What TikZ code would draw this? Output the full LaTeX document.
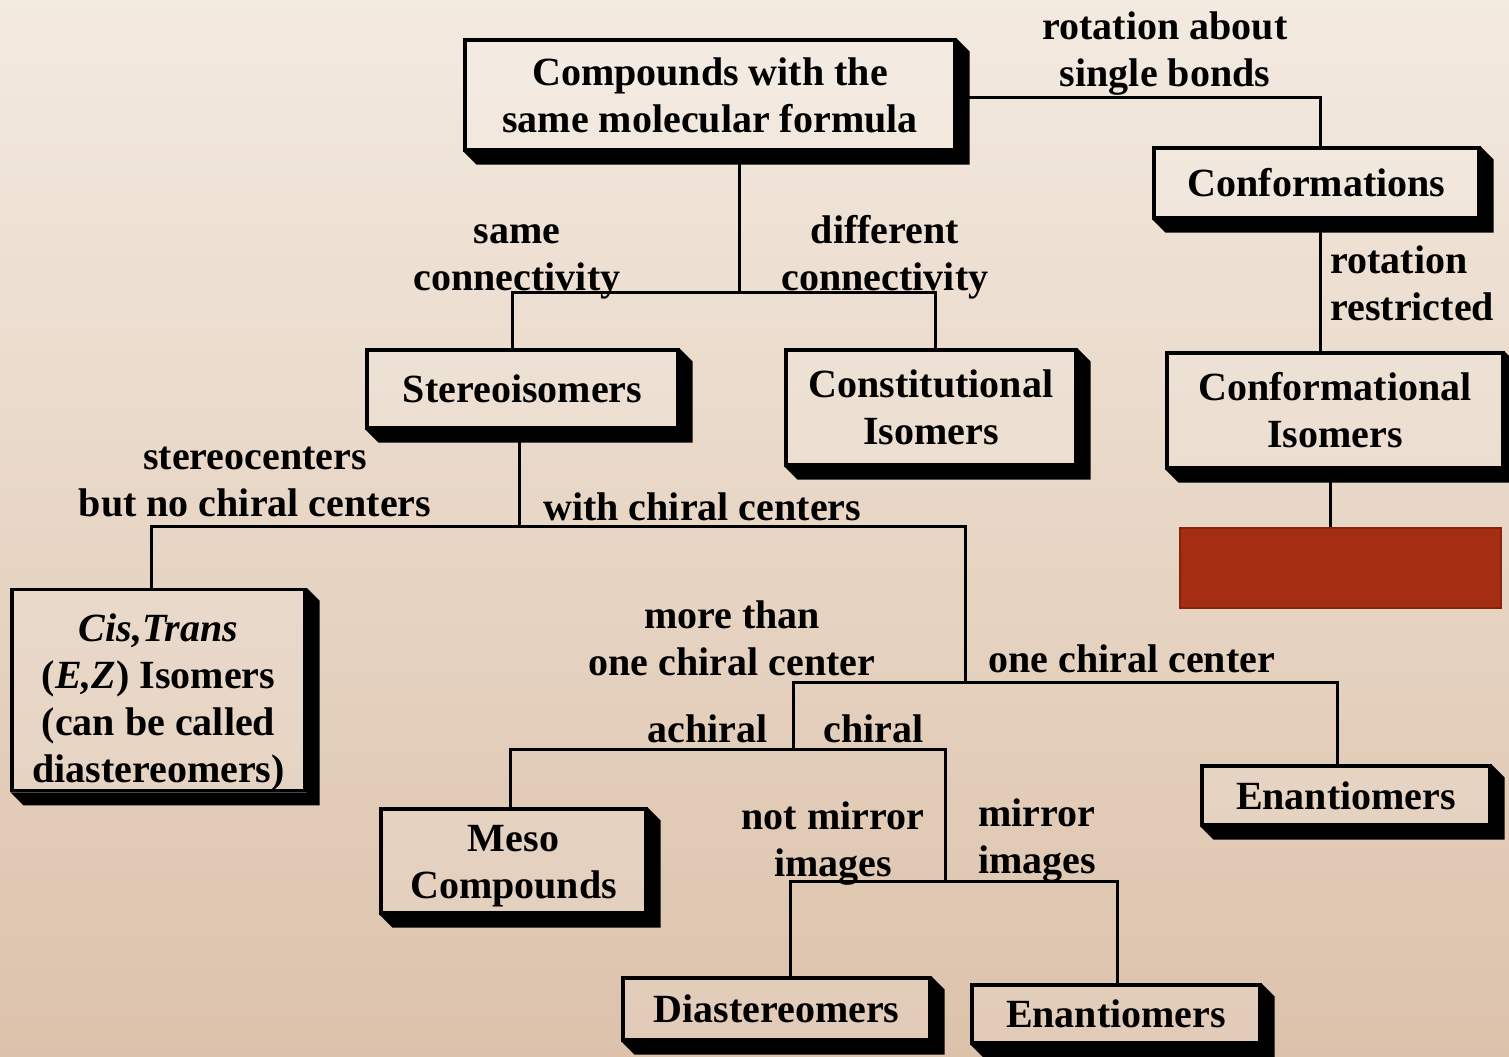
\documentclass[tikz,border=0pt]{standalone}
\usepackage{fontspec}
\setmainfont{Liberation Serif}
\definecolor{BgTop}{HTML}{F3EAE0}
\definecolor{BgBottom}{HTML}{DCC2AB}
\definecolor{Brick}{HTML}{A52D11}
\tikzset{
every node/.style={font=\fontsize{20}{23.5}\selectfont\bfseries, inner sep=0pt},
isobox/.style={rectangle, draw=black, line width=1.6pt, fill=white, fill opacity=0.15, text opacity=1, align=center},
tag/.style={align=center},
link/.style={line width=1.5pt}
}

\begin{document}
\begin{tikzpicture}[x=0.5pt, y=-0.5pt]
    \useasboundingbox (0,0) rectangle (1509,1056);
    \shade[top color=BgTop, bottom color=BgBottom] (0,0) rectangle (1509,1056);

    % boxes
    \node[isobox, minimum width=245pt, minimum height=55pt] (comp) at (710,95) {Compounds with the\\same molecular formula};
    \node[isobox, minimum width=162.5pt, minimum height=35pt] (confs) at (1316.5,183) {Conformations};
    \node[isobox, minimum width=168pt, minimum height=57.5pt] (confi) at (1335,410.5) {Conformational\\Isomers};
    \node[rectangle, draw=Brick!80!black, line width=1pt, fill=Brick, minimum width=160.5pt, minimum height=40pt] (red) at (1340.5,568) {};
    \node[isobox, minimum width=155.5pt, minimum height=39pt] (stereo) at (522.5,389) {Stereoisomers};
    \node[isobox, minimum width=145pt, minimum height=57.5pt] (const) at (931,407.5) {Constitutional\\Isomers};
    \node[isobox, minimum width=146.5pt, minimum height=100pt] (cis) at (158.5,690) {\rule{0pt}{26pt}\textit{Cis,Trans}\\(\textit{E,Z}) Isomers\\(can be called\\diastereomers)};
    \node[isobox, minimum width=144pt, minimum height=29.5pt] (enanr) at (1346,795.5) {Enantiomers};
    \node[isobox, minimum width=132.5pt, minimum height=52pt] (meso) at (513.5,861) {\rule{0pt}{18pt}Meso\\Compounds};
    \node[isobox, minimum width=153.5pt, minimum height=31pt] (dia) at (776.5,1009) {Diastereomers};
    \node[isobox, minimum width=144pt, minimum height=29pt] (enanb) at (1116,1014) {Enantiomers};

    % shadows
    \foreach \b in {comp,confs,confi,stereo,const,cis,enanr,meso,dia,enanb}
        \fill[black] (\b.south west) -- ++(13,13) -- ([shift={(13,13)}]\b.south east)
            -- ([shift={(13,13)}]\b.north east) -- (\b.north east) -- (\b.south east) -- cycle;

    % junctions
    \coordinate (j1) at (739,292);
    \coordinate (j1l) at (512,292);
    \coordinate (j1r) at (935,292);
    \coordinate (j2) at (519,526);
    \coordinate (j2l) at (151,526);
    \coordinate (j3) at (965,682);
    \coordinate (j3l) at (793,682);
    \coordinate (j3r) at (1337,682);
    \coordinate (j4) at (793,749);
    \coordinate (j4l) at (510,749);
    \coordinate (j4r) at (945,749);
    \coordinate (j5) at (945,881);
    \coordinate (j5l) at (790,881);
    \coordinate (j5r) at (1117,881);
    \coordinate (jc) at (1320,97);
    \coordinate (jr) at (1330,500);

    % connectors
    \draw[link] (comp.east |- jc) -- (jc) -- (confs.north -| jc);
    \draw[link] (confs.south -| jc) -- (confi.north -| jc);
    \draw[link] (confi.south -| jr) -- (red.north -| jr);
    \draw[link] (comp.south -| j1) -- (j1);
    \draw[link] (stereo.north -| j1l) -- (j1l) -- (j1r) -- (const.north -| j1r);
    \draw[link] (stereo.south -| j2) -- (j2);
    \draw[link] (cis.north -| j2l) -- (j2l) -- (j2 -| j3) -- (j3);
    \draw[link] (j4) -- (j3l) -- (j3r) -- (enanr.north -| j3r);
    \draw[link] (meso.north -| j4l) -- (j4l) -- (j4r) -- (j5);
    \draw[link] (dia.north -| j5l) -- (j5l) -- (j5r) -- (enanb.north -| j5r);

    % labels
    \node[tag] (rotabout) at (1165,54) {rotation about\\single bonds};
    \node[tag, anchor=west, align=left] (rotrestr) at (1330,283) {rotation\\restricted};
    \node[tag] (samecon) at (517,262) {same\\connectivity};
    \node[tag] (diffcon) at (885,257) {different\\connectivity};
    \node[tag] (nochiral) at (255,482) {stereocenters\\but no chiral centers};
    \node[tag, anchor=west] (withchiral) at (543,507) {with chiral centers};
    \node[tag] (morethan) at (732,638) {more than\\one chiral center};
    \node[tag, anchor=west] (onechiral) at (988,659) {one chiral center};
    \node[tag, anchor=east] (achiral) at (768,729) {achiral};
    \node[tag, anchor=west] (chiral) at (823,729) {chiral};
    \node[tag] (notmirror) at (833,844) {not mirror\\images};
    \node[tag, anchor=west, align=left] (mirror) at (978,841) {mirror\\images};
\end{tikzpicture}
\end{document}
